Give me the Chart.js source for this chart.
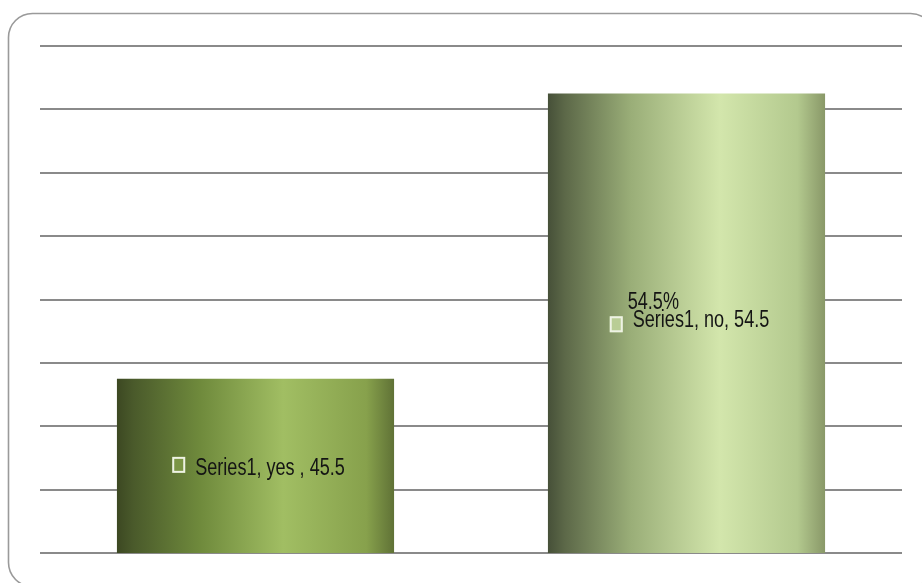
<!DOCTYPE html>
<html>
<head>
<meta charset="utf-8">
<script src="https://cdn.jsdelivr.net/npm/chart.js@4.4.1/dist/chart.umd.min.js"></script>
<style>
  html, body { margin: 0; padding: 0; background: #fff; }
  #wrap { position: relative; width: 922px; height: 583px; overflow: hidden; }
</style>
</head>
<body>
<div id="wrap"><canvas id="chart" width="922" height="583"></canvas></div>
<script>
// ── Data ──────────────────────────────────────────────────────────
const seriesName = 'Series1';
const categories = ['yes ', 'no'];
const values     = [45.5, 54.5];
const showPct    = [false, true];

// Value axis (ticks hidden, gridlines only)
const yMin  = 40;
const yMax  = 56;
const yStep = 2;

// Horizontal "cylinder" shading per bar: [stop, colour]
const barStops = [
  [[0, '#3c4822'], [0.06, '#4a5a2b'], [0.3, '#6f8a3c'], [0.6, '#a1be63'], [0.9, '#87a14c'], [1, '#607236']],
  [[0, '#465038'], [0.06, '#5c6848'], [0.3, '#9aae78'], [0.62, '#d3e6ac'], [0.9, '#b3c98e'], [1, '#899868']],
];
const markerFill = ['#7b9545', '#b9cd95'];

const BAR_FRACTION = 0.643;
const LABEL_FONT = '23px "Liberation Sans", Arial, sans-serif';
const SQUASH = 0.785;   // narrow the label glyphs horizontally

function barGradient(ctx) {
  const chart = ctx.chart;
  const area = chart.chartArea;
  const i = ctx.dataIndex;
  if (!area) return barStops[i][3][1];
  const cx = chart.scales.x.getPixelForValue(i);
  const half = (area.width / categories.length) * BAR_FRACTION / 2;
  const g = chart.ctx.createLinearGradient(cx - half, 0, cx + half, 0);
  barStops[i].forEach(([s, c]) => g.addColorStop(s, c));
  return g;
}

// ── Rounded frame around the plot ─────────────────────────────────
const framePlugin = {
  id: 'frame',
  beforeDraw(chart) {
    const c = chart.ctx;
    c.save();
    c.strokeStyle = '#9a9a9a';
    c.lineWidth = 1.6;
    c.beginPath();
    c.roundRect(8.5, 13.5, 926, 573, 24);
    c.stroke();
    c.restore();
  }
};

// ── In-bar data labels ────────────────────────────────────────────
function squashedText(c, text, x, y) {
  c.save();
  c.translate(x, y);
  c.scale(SQUASH, 1);
  c.fillText(text, 0, 0);
  c.restore();
}

const labelPlugin = {
  id: 'barLabels',
  afterDraw(chart) {
    const c = chart.ctx;
    const area = chart.chartArea;
    const meta = chart.getDatasetMeta(0);
    c.save();
    c.font = LABEL_FONT;
    c.textBaseline = 'alphabetic';
    c.textAlign = 'left';
    meta.data.forEach((bar, i) => {
      const text = `${seriesName}, ${categories[i]}, ${values[i]}`;
      const tw = c.measureText(text).width * SQUASH;
      const markW = 13, gap = 10;
      const total = markW + gap + tw;
      const left = bar.x + 3 - total / 2;
      // bar base lies below the visible axis minimum, so clip to the plot
      const bottom = Math.min(bar.base, area.bottom);
      const mid = (bar.y + bottom) / 2;
      const base = showPct[i] ? mid + 4 : mid + 9;
      const markTop = showPct[i] ? base - 11 : base - 18;

      // legend key square
      c.fillStyle = markerFill[i];
      c.fillRect(left, markTop, markW, 16);
      c.strokeStyle = '#eef2e4';
      c.lineWidth = 2;
      c.strokeRect(left + 1, markTop + 1, markW - 2, 14);

      c.fillStyle = '#141414';
      const tx = left + markW + gap;
      squashedText(c, text, tx, base);
      if (showPct[i]) {
        squashedText(c, `${values[i]}%`, tx - 5, base - 18);
      }
    });
    c.restore();
  }
};

new Chart(document.getElementById('chart'), {
  type: 'bar',
  data: {
    labels: categories,
    datasets: [{
      label: seriesName,
      data: values,
      backgroundColor: barGradient,
      borderWidth: 0,
      barPercentage: BAR_FRACTION,
      categoryPercentage: 1,
    }]
  },
  options: {
    responsive: false,
    animation: false,
    layout: { padding: { left: 40, right: 20, top: 46, bottom: 30 } },
    plugins: {
      legend: { display: false },
      tooltip: { enabled: false },
    },
    scales: {
      x: {
        display: false,
        grid: { display: false },
      },
      y: {
        display: true,
        min: yMin,
        max: yMax,
        ticks: { display: false, stepSize: yStep },
        grid: { color: '#8a8a8a', lineWidth: 2, drawTicks: false },
        border: { display: false },
      }
    }
  },
  plugins: [framePlugin, labelPlugin]
});
</script>
</body>
</html>
